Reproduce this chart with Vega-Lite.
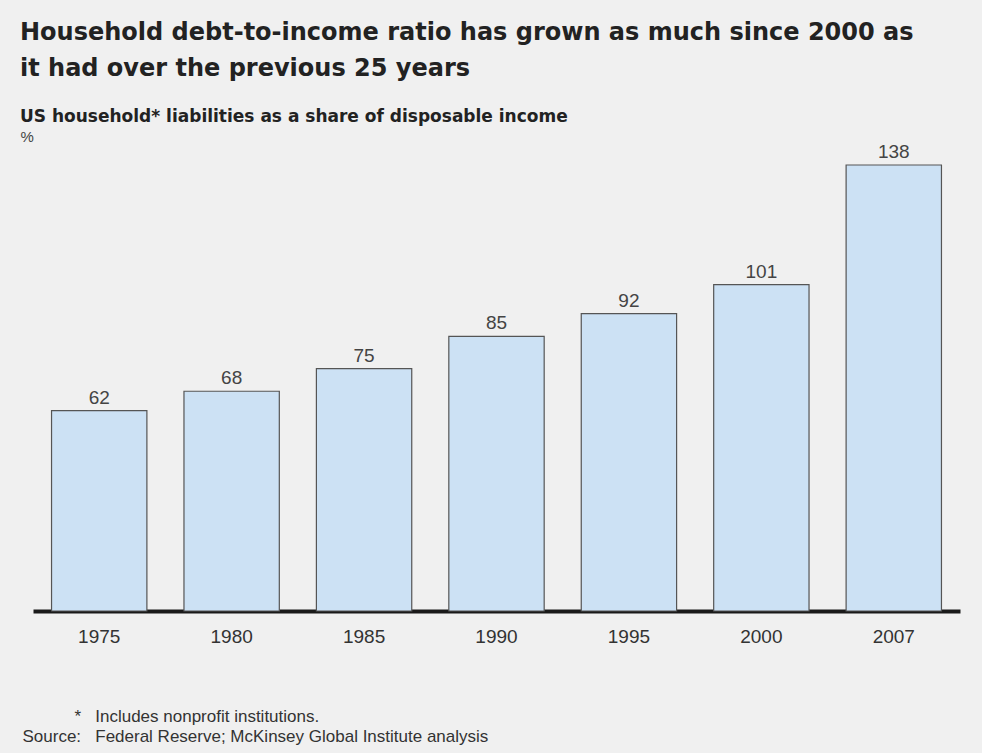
{
  "$schema": "https://vega.github.io/schema/vega-lite/v6.json",
  "autosize": {"type": "none"},
  "padding": {"left": 33, "top": 165, "right": 22, "bottom": 142},
  "width": 927,
  "height": 446,
  "background": "#f0f0f0",
  "config": {"view": {"stroke": null}, "font": "Liberation Sans"},
  "title": {
    "text": ["Household debt-to-income ratio has grown as much since 2000 as", "it had over the previous 25 years"],
    "subtitle": "US household* liabilities as a share of disposable income",
    "anchor": "start",
    "frame": "group",
    "dx": -13,
    "font": "DejaVu Sans",
    "fontSize": 24,
    "fontWeight": "bold",
    "color": "#222222",
    "lineHeight": 36,
    "subtitleFont": "DejaVu Sans",
    "subtitleFontSize": 17,
    "subtitleFontWeight": "bold",
    "subtitleColor": "#222222",
    "subtitlePadding": 28,
    "offset": 4
  },
  "data": {
    "values": [
      {"year": "1975", "ratio": 62},
      {"year": "1980", "ratio": 68},
      {"year": "1985", "ratio": 75},
      {"year": "1990", "ratio": 85},
      {"year": "1995", "ratio": 92},
      {"year": "2000", "ratio": 101},
      {"year": "2007", "ratio": 138}
    ]
  },
  "encoding": {
    "x": {
      "field": "year",
      "type": "nominal",
      "sort": null,
      "scale": {"paddingInner": 0.28, "paddingOuter": 0.14},
      "axis": {
        "labelAngle": 0,
        "labelFontSize": 19,
        "labelColor": "#333333",
        "labelPadding": 16,
        "ticks": false,
        "domainWidth": 4,
        "domainColor": "#1a1a1a",
        "title": ["\u200b\u00a0\u00a0\u00a0\u00a0\u00a0\u00a0\u00a0\u00a0\u00a0\u00a0\u00a0*\u00a0\u00a0\u00a0Includes nonprofit institutions.", "Source:\u00a0\u00a0\u00a0Federal Reserve; McKinsey Global Institute analysis"],
        "titleFontSize": 17,
        "titleFontWeight": "normal",
        "titleColor": "#333333",
        "titleAnchor": "start",
        "titleAlign": "left",
        "titleBaseline": "alphabetic",
        "titleX": -11,
        "titleY": 110,
        "titleLineHeight": 20
      }
    },
    "y": {
      "field": "ratio",
      "type": "quantitative",
      "scale": {"domain": [0, 138], "nice": false},
      "axis": {
        "domain": false,
        "labels": false,
        "ticks": false,
        "grid": false,
        "title": "%",
        "titleAngle": 0,
        "titleAlign": "left",
        "titleBaseline": "middle",
        "titleX": -13,
        "titleY": -29,
        "titleFontSize": 15,
        "titleFontWeight": "normal",
        "titleColor": "#444444"
      }
    }
  },
  "layer": [
    {"mark": {"type": "bar", "fill": "#cce1f4", "stroke": "#555555", "strokeWidth": 1.2}},
    {"mark": {"type": "text", "baseline": "bottom", "dy": -3, "fontSize": 19, "color": "#444444"}, "encoding": {"text": {"field": "ratio", "type": "quantitative"}}}
  ]
}
